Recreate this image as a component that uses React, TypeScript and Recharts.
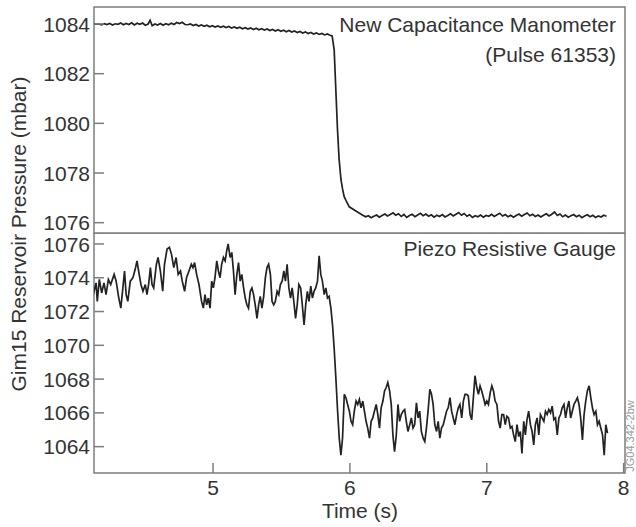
import React from "react";
import { LineChart, Line, XAxis, YAxis, ReferenceArea } from "recharts";

// ---- data (time in s, pressure in mbar) ----
const timeTicks = [5, 6, 7, 8];
const manometerTicks = [1076, 1078, 1080, 1082, 1084];
const piezoTicks = [1064, 1066, 1068, 1070, 1072, 1074, 1076];

const manometerBefore: [number, number][] = [
  [4.125, 1084.01], [4.145, 1083.99], [4.165, 1084.0], [4.185, 1083.97], [4.205, 1084.01],
  [4.225, 1083.98], [4.245, 1084.02], [4.265, 1083.96], [4.285, 1084.01], [4.305, 1083.99],
  [4.325, 1084.04], [4.345, 1083.97], [4.365, 1084.02], [4.385, 1083.98], [4.405, 1084.05],
  [4.425, 1083.96], [4.445, 1084.03], [4.465, 1083.99], [4.485, 1084.04], [4.505, 1083.95],
  [4.525, 1084.0], [4.54, 1084.15], [4.555, 1083.93], [4.575, 1084.0], [4.595, 1083.96],
  [4.615, 1084.02], [4.635, 1083.95], [4.655, 1084.01], [4.675, 1083.97], [4.695, 1084.03],
  [4.715, 1083.98], [4.735, 1084.06], [4.755, 1084.02], [4.775, 1084.07], [4.795, 1083.98],
  [4.815, 1083.97], [4.835, 1084.0], [4.855, 1083.94], [4.875, 1083.98], [4.895, 1083.92],
  [4.915, 1083.96], [4.935, 1083.91], [4.955, 1083.95], [4.975, 1083.89], [4.995, 1083.93],
  [5.015, 1083.88], [5.035, 1083.92], [5.055, 1083.87], [5.075, 1083.91], [5.095, 1083.86],
  [5.115, 1083.9], [5.135, 1083.84], [5.155, 1083.88], [5.175, 1083.83], [5.195, 1083.87],
  [5.215, 1083.81], [5.235, 1083.85], [5.255, 1083.8], [5.275, 1083.84], [5.295, 1083.78],
  [5.315, 1083.83], [5.335, 1083.77], [5.355, 1083.81], [5.375, 1083.76], [5.395, 1083.8],
  [5.415, 1083.74], [5.435, 1083.78], [5.455, 1083.72], [5.475, 1083.77], [5.495, 1083.71],
  [5.515, 1083.75], [5.535, 1083.69], [5.555, 1083.74], [5.575, 1083.68], [5.595, 1083.72],
  [5.615, 1083.66], [5.635, 1083.7], [5.655, 1083.64], [5.675, 1083.68], [5.695, 1083.62],
  [5.715, 1083.66], [5.735, 1083.6], [5.755, 1083.64], [5.775, 1083.58], [5.795, 1083.62],
  [5.815, 1083.56], [5.835, 1083.6], [5.855, 1083.55], [5.87, 1083.52],
];

const manometerDrop: [number, number][] = [
  [5.885, 1082.96], [5.897, 1081.36], [5.909, 1079.76], [5.921, 1078.56], [5.934, 1077.76],
  [5.946, 1077.36], [5.958, 1077.05], [5.971, 1076.9], [5.995, 1076.64], [6.032, 1076.51],
  [6.07, 1076.38],
];

const manometerAfter: [number, number][] = [
  [6.094, 1076.3], [6.115, 1076.24], [6.135, 1076.28], [6.155, 1076.2], [6.175, 1076.26],
  [6.195, 1076.31], [6.215, 1076.22], [6.235, 1076.29], [6.255, 1076.35], [6.275, 1076.27],
  [6.295, 1076.33], [6.315, 1076.4], [6.335, 1076.3], [6.355, 1076.36], [6.375, 1076.25],
  [6.395, 1076.33], [6.415, 1076.21], [6.435, 1076.29], [6.455, 1076.34], [6.475, 1076.24],
  [6.495, 1076.31], [6.515, 1076.38], [6.535, 1076.28], [6.555, 1076.35], [6.575, 1076.26],
  [6.595, 1076.32], [6.615, 1076.22], [6.635, 1076.3], [6.655, 1076.25], [6.675, 1076.33],
  [6.695, 1076.23], [6.715, 1076.29], [6.735, 1076.36], [6.755, 1076.27], [6.775, 1076.34],
  [6.795, 1076.41], [6.815, 1076.3], [6.835, 1076.37], [6.855, 1076.26], [6.875, 1076.32],
  [6.895, 1076.21], [6.915, 1076.28], [6.935, 1076.24], [6.955, 1076.31], [6.975, 1076.22],
  [6.995, 1076.29], [7.015, 1076.26], [7.035, 1076.34], [7.055, 1076.25], [7.075, 1076.32],
  [7.095, 1076.38], [7.115, 1076.27], [7.135, 1076.33], [7.155, 1076.24], [7.175, 1076.3],
  [7.195, 1076.22], [7.215, 1076.29], [7.235, 1076.35], [7.255, 1076.26], [7.275, 1076.33],
  [7.295, 1076.39], [7.315, 1076.28], [7.335, 1076.34], [7.355, 1076.25], [7.375, 1076.31],
  [7.395, 1076.23], [7.415, 1076.3], [7.435, 1076.36], [7.455, 1076.27], [7.475, 1076.34],
  [7.495, 1076.43], [7.515, 1076.29], [7.535, 1076.35], [7.555, 1076.24], [7.575, 1076.31],
  [7.595, 1076.22], [7.615, 1076.28], [7.635, 1076.33], [7.655, 1076.24], [7.675, 1076.3],
  [7.695, 1076.2], [7.715, 1076.27], [7.735, 1076.32], [7.755, 1076.24], [7.775, 1076.3],
  [7.795, 1076.21], [7.815, 1076.27], [7.835, 1076.23], [7.855, 1076.3], [7.875, 1076.26],
];

const piezoBefore: [number, number][] = [
  [4.125, 1073.0], [4.145, 1073.7], [4.154, 1072.6], [4.169, 1073.9], [4.186, 1073.1],
  [4.203, 1073.7], [4.218, 1073.0], [4.235, 1073.9], [4.252, 1073.6], [4.277, 1074.2],
  [4.292, 1073.8], [4.309, 1072.9], [4.326, 1072.2], [4.341, 1073.4], [4.353, 1074.4],
  [4.365, 1073.0], [4.377, 1072.6], [4.395, 1073.8], [4.414, 1074.0], [4.431, 1074.5],
  [4.444, 1075.0], [4.456, 1074.4], [4.473, 1073.6], [4.488, 1073.2], [4.505, 1073.6],
  [4.517, 1073.0], [4.529, 1073.6], [4.542, 1074.6], [4.554, 1073.6], [4.566, 1073.4],
  [4.586, 1074.8], [4.598, 1075.2], [4.615, 1074.4], [4.632, 1073.2], [4.645, 1074.8],
  [4.664, 1075.7], [4.681, 1075.8], [4.696, 1075.4], [4.713, 1074.6], [4.73, 1075.2],
  [4.745, 1074.2], [4.762, 1074.4], [4.775, 1073.8], [4.792, 1073.2], [4.806, 1074.0],
  [4.824, 1074.4], [4.841, 1074.8], [4.853, 1074.6], [4.865, 1074.9], [4.88, 1074.2],
  [4.897, 1073.6], [4.916, 1072.6], [4.929, 1072.2], [4.941, 1073.0], [4.953, 1072.4],
  [4.965, 1072.8], [4.978, 1072.2], [4.99, 1073.8], [5.002, 1073.4], [5.014, 1074.0],
  [5.027, 1075.0], [5.039, 1074.4], [5.051, 1074.0], [5.063, 1074.8], [5.076, 1075.2],
  [5.088, 1075.0], [5.1, 1075.6], [5.11, 1076.0], [5.125, 1075.2], [5.137, 1075.5],
  [5.149, 1074.4], [5.161, 1073.0], [5.174, 1074.2], [5.186, 1074.9], [5.198, 1073.8],
  [5.21, 1074.2], [5.223, 1073.4], [5.235, 1072.8], [5.247, 1072.4], [5.259, 1072.2],
  [5.272, 1073.2], [5.284, 1073.4], [5.296, 1073.0], [5.308, 1072.4], [5.321, 1071.6],
  [5.333, 1072.4], [5.345, 1072.9], [5.357, 1072.2], [5.37, 1072.9], [5.382, 1074.0],
  [5.394, 1074.6], [5.406, 1074.8], [5.419, 1074.2], [5.431, 1072.6], [5.443, 1072.4],
  [5.455, 1072.6], [5.468, 1073.2], [5.48, 1073.0], [5.492, 1073.6], [5.505, 1073.8],
  [5.517, 1074.4], [5.529, 1073.8], [5.541, 1074.8], [5.554, 1073.4], [5.566, 1072.8],
  [5.578, 1073.4], [5.59, 1072.6], [5.603, 1071.6], [5.615, 1072.4], [5.627, 1073.6],
  [5.64, 1073.4], [5.652, 1072.4], [5.665, 1071.2], [5.677, 1072.4], [5.689, 1073.2],
  [5.701, 1072.6], [5.714, 1073.5], [5.726, 1072.8], [5.738, 1073.2], [5.75, 1073.4],
  [5.763, 1073.8], [5.775, 1075.3], [5.787, 1074.2], [5.799, 1073.8], [5.812, 1073.0],
  [5.824, 1073.4], [5.836, 1072.8], [5.848, 1072.9], [5.861, 1072.2], [5.873, 1071.2],
];

const piezoDrop: [number, number][] = [
  [5.885, 1069.8], [5.897, 1068.1], [5.91, 1066.1], [5.922, 1064.5], [5.934, 1063.5],
  [5.946, 1064.5], [5.959, 1067.1],
];

const piezoAfter: [number, number][] = [
  [5.971, 1066.9], [5.983, 1066.5], [5.996, 1066.1], [6.008, 1065.5], [6.02, 1065.3],
  [6.032, 1066.1], [6.045, 1066.7], [6.057, 1066.5], [6.069, 1066.8], [6.081, 1066.3],
  [6.094, 1066.7], [6.106, 1066.1], [6.118, 1065.5], [6.13, 1065.1], [6.143, 1064.5],
  [6.155, 1065.5], [6.167, 1065.7], [6.179, 1066.1], [6.192, 1066.5], [6.204, 1065.9],
  [6.216, 1065.1], [6.228, 1066.3], [6.241, 1066.7], [6.253, 1067.3], [6.265, 1067.5],
  [6.277, 1067.8], [6.29, 1067.3], [6.302, 1066.5], [6.314, 1064.7], [6.326, 1063.7],
  [6.339, 1064.7], [6.351, 1066.5], [6.363, 1065.5], [6.375, 1065.9], [6.388, 1066.1],
  [6.4, 1066.2], [6.412, 1065.5], [6.424, 1064.9], [6.437, 1065.3], [6.449, 1065.7],
  [6.461, 1065.1], [6.473, 1065.3], [6.486, 1066.6], [6.498, 1065.7], [6.51, 1066.1],
  [6.522, 1064.9], [6.535, 1064.5], [6.547, 1064.3], [6.559, 1065.1], [6.571, 1066.1],
  [6.584, 1067.4], [6.596, 1067.1], [6.608, 1066.5], [6.62, 1065.3], [6.633, 1064.9],
  [6.645, 1065.5], [6.657, 1064.5], [6.669, 1065.1], [6.682, 1065.3], [6.694, 1065.7],
  [6.706, 1066.1], [6.718, 1066.3], [6.731, 1066.9], [6.743, 1066.1], [6.755, 1065.7],
  [6.767, 1065.3], [6.78, 1065.9], [6.792, 1066.3], [6.804, 1066.5], [6.817, 1065.7],
  [6.829, 1066.7], [6.841, 1067.1], [6.853, 1067.1], [6.865, 1067.0], [6.878, 1065.9],
  [6.89, 1065.6], [6.902, 1066.9], [6.914, 1068.2], [6.927, 1067.5], [6.939, 1067.1],
  [6.951, 1067.6], [6.963, 1067.3], [6.976, 1066.9], [6.988, 1066.5], [7.0, 1066.7],
  [7.012, 1066.5], [7.025, 1067.2], [7.037, 1067.6], [7.049, 1067.3], [7.061, 1066.7],
  [7.074, 1066.5], [7.086, 1065.5], [7.098, 1065.1], [7.11, 1065.9], [7.123, 1065.9],
  [7.135, 1065.3], [7.147, 1065.8], [7.159, 1065.7], [7.172, 1065.1], [7.184, 1065.2],
  [7.196, 1064.7], [7.208, 1064.3], [7.221, 1065.3], [7.233, 1064.6], [7.245, 1064.9],
  [7.257, 1063.6], [7.27, 1065.5], [7.282, 1064.7], [7.294, 1065.6], [7.306, 1066.1],
  [7.319, 1065.3], [7.331, 1064.9], [7.343, 1064.1], [7.355, 1065.3], [7.368, 1065.7],
  [7.38, 1064.7], [7.392, 1065.9], [7.404, 1065.7], [7.417, 1065.5], [7.429, 1066.1],
  [7.441, 1065.9], [7.453, 1066.2], [7.466, 1066.0], [7.478, 1066.4], [7.49, 1065.6],
  [7.502, 1065.7], [7.515, 1064.7], [7.527, 1065.7], [7.539, 1065.9], [7.551, 1066.3],
  [7.564, 1066.5], [7.576, 1065.7], [7.588, 1066.3], [7.6, 1066.7], [7.613, 1065.7],
  [7.625, 1066.1], [7.637, 1066.5], [7.65, 1066.7], [7.662, 1066.9], [7.674, 1066.5],
  [7.686, 1065.7], [7.699, 1064.4], [7.711, 1065.9], [7.723, 1066.7], [7.735, 1067.3],
  [7.748, 1067.6], [7.76, 1066.9], [7.772, 1066.3], [7.784, 1065.9], [7.797, 1066.1],
  [7.809, 1065.3], [7.821, 1065.5], [7.833, 1065.1], [7.846, 1064.7], [7.858, 1063.5],
  [7.87, 1065.3], [7.882, 1064.8],
];

// ---- styling ----
const FONT = '"Liberation Sans", Arial, Helvetica, sans-serif';
const INK = "#333";
const FRAME = "#7d7d7d";
const TRACE = "#222";
const TIME_DOMAIN: [number, number] = [4.13, 8.01];
const TOP_DOMAIN: [number, number] = [1075.585, 1084.685];
const BOTTOM_DOMAIN: [number, number] = [1062.44, 1076.65];

const toRows = (...parts: [number, number][][]) =>
  parts.flat().map(([t, p]) => ({ t, p }));

const manometerData = toRows(manometerBefore, manometerDrop, manometerAfter);
const piezoData = toRows(piezoBefore, piezoDrop, piezoAfter);

function YTick(props: any) {
  const { x, y, payload } = props;
  return (
    <g>
      <line x1={x} x2={x + 10} y1={y} y2={y} stroke={FRAME} strokeWidth={1.5} />
      <text
        x={x - 4}
        y={y}
        dy="0.36em"
        textAnchor="end"
        fontSize={21}
        fontFamily={FONT}
        fill={INK}
      >
        {payload.value}
      </text>
    </g>
  );
}

function XTick(props: any) {
  const { x, y, payload } = props;
  return (
    <g>
      <line x1={x} x2={x} y1={y} y2={y - 10} stroke={FRAME} strokeWidth={1.5} />
      <text
        x={x}
        y={y + 22}
        textAnchor="middle"
        fontSize={21}
        fontFamily={FONT}
        fill={INK}
      >
        {payload.value}
      </text>
    </g>
  );
}

export default function App() {
  return (
    <div style={{ position: "absolute", left: 0, top: 0, width: 636, height: 527, background: "#fff" }}>
      <div style={{ position: "absolute", left: 0, top: 0 }}>
        <LineChart
          width={636}
          height={240}
          data={manometerData}
          margin={{ top: 7, right: 11, bottom: 7, left: 0 }}
        >
          <XAxis type="number" dataKey="t" domain={TIME_DOMAIN} allowDataOverflow hide />
          <YAxis
            type="number"
            domain={TOP_DOMAIN}
            allowDataOverflow
            ticks={manometerTicks}
            width={94}
            axisLine={false}
            tickLine={false}
            tickSize={0}
            tickMargin={0}
            tick={<YTick />}
            interval={0}
          />
          <ReferenceArea
            x1={TIME_DOMAIN[0]}
            x2={TIME_DOMAIN[1]}
            y1={TOP_DOMAIN[0]}
            y2={TOP_DOMAIN[1]}
            fill="none"
            stroke={FRAME}
            strokeWidth={1.5}
            fillOpacity={0}
          />
          <Line
            type="linear"
            dataKey="p"
            stroke={TRACE}
            strokeWidth={1.7}
            dot={false}
            isAnimationActive={false}
          />
        </LineChart>
      </div>
      <div style={{ position: "absolute", left: 0, top: 233 }}>
        <LineChart
          width={636}
          height={294}
          data={piezoData}
          margin={{ top: 0, right: 11, bottom: 0, left: 0 }}
        >
          <XAxis
            type="number"
            dataKey="t"
            domain={TIME_DOMAIN}
            allowDataOverflow
            ticks={timeTicks}
            height={54}
            axisLine={false}
            tickLine={false}
            tickSize={0}
            tickMargin={0}
            tick={<XTick />}
            interval={0}
          />
          <YAxis
            type="number"
            domain={BOTTOM_DOMAIN}
            allowDataOverflow
            ticks={piezoTicks}
            width={94}
            axisLine={false}
            tickLine={false}
            tickSize={0}
            tickMargin={0}
            tick={<YTick />}
            interval={0}
          />
          <ReferenceArea
            x1={TIME_DOMAIN[0]}
            x2={TIME_DOMAIN[1]}
            y1={BOTTOM_DOMAIN[0]}
            y2={BOTTOM_DOMAIN[1]}
            fill="none"
            stroke={FRAME}
            strokeWidth={1.5}
            fillOpacity={0}
          />
          <Line
            type="linear"
            dataKey="p"
            stroke={TRACE}
            strokeWidth={1.7}
            dot={false}
            isAnimationActive={false}
          />
        </LineChart>
      </div>
      <svg
        width={636}
        height={527}
        style={{ position: "absolute", left: 0, top: 0, pointerEvents: "none" }}
        fontFamily={FONT}
      >
        <text x={616} y={32} textAnchor="end" fontSize={21} fill={INK}>
          New Capacitance Manometer
        </text>
        <text x={616} y={62} textAnchor="end" fontSize={21} fill={INK}>
          (Pulse 61353)
        </text>
        <text x={616} y={256} textAnchor="end" fontSize={21} fill={INK}>
          Piezo Resistive Gauge
        </text>
        <text x={360} y={518} textAnchor="middle" fontSize={21} fill={INK}>
          Time (s)
        </text>
        <text
          x={26}
          y={234}
          textAnchor="middle"
          fontSize={21}
          fill={INK}
          transform="rotate(-90 26 234)"
        >
          Gim15 Reservoir Pressure (mbar)
        </text>
        <text
          x={634}
          y={436}
          textAnchor="middle"
          fontSize={11}
          fill="#999"
          transform="rotate(-90 634 436)"
        >
          JG04.342-2bw
        </text>
      </svg>
    </div>
  );
}
